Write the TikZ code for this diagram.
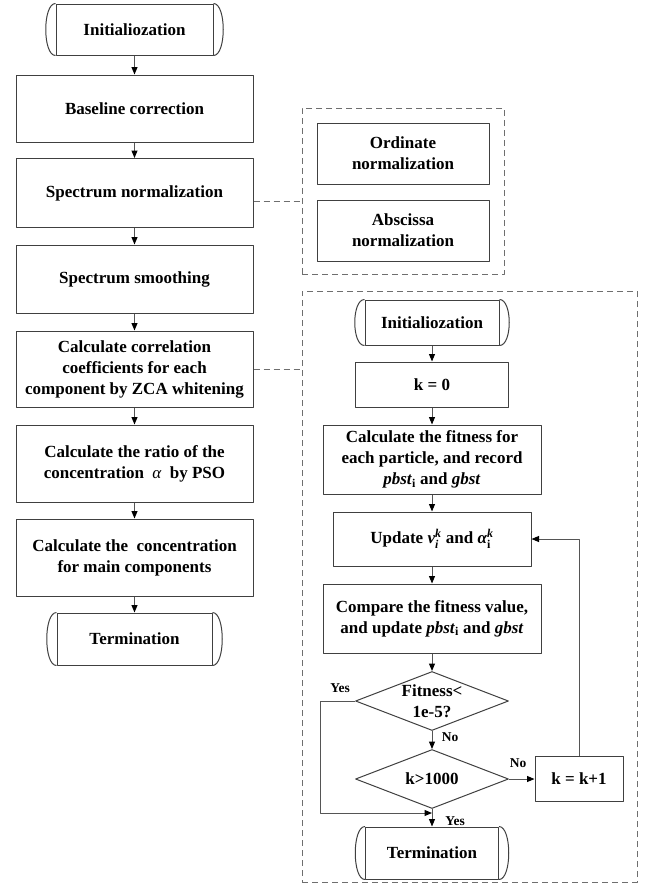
\documentclass[tikz,border=0pt]{standalone}
\usepackage{amsmath}
\usepackage{fontspec}
\setmainfont{Liberation Serif}
\usetikzlibrary{arrows.meta,shapes.geometric,calc}
\definecolor{BoxLine}{HTML}{404040}
\definecolor{LinkGray}{HTML}{555555}
\definecolor{DashGray}{HTML}{6E6E6E}

% rounded caps on both sides of a terminal box
\newcommand{\termcaps}[1]{%
  \draw[BoxLine, line width=1pt] (#1.north west) .. controls +(-13,0) and +(-13,0) .. (#1.south west);
  \draw[BoxLine, line width=1pt] (#1.north east) .. controls +(13,0) and +(13,0) .. (#1.south east);
}

\begin{document}
\begin{tikzpicture}[
  x=1pt, y=-1pt,
  line join=round,
  font=\fontsize{17}{21}\selectfont\bfseries,
  procbox/.style 2 args={draw=BoxLine, line width=1pt, inner sep=0pt, align=center,
    minimum width=#1pt, minimum height=#2pt},
  termbox/.style 2 args={procbox={#1}{#2}},
  groupbox/.style 2 args={draw=DashGray, line width=1pt, dash pattern=on 6pt off 4pt,
    inner sep=0pt, minimum width=#1pt, minimum height=#2pt},
  decision/.style={diamond, draw=BoxLine, line width=1pt, inner sep=0pt,
    minimum width=153pt, minimum height=59pt},
  arr/.style={LinkGray, line width=1pt, -{Triangle[length=7.5pt,width=6pt,color=black]}},
  dashlink/.style={DashGray, line width=1pt, dash pattern=on 6pt off 4pt},
  flowlabel/.style={font=\fontsize{13.5}{16}\selectfont\bfseries, inner sep=0pt}
]

% Background
\fill[white] (0,0) rectangle (657,894);
\useasboundingbox (0,0) rectangle (657,894);

% === Main flow (left column) ===
\node[termbox={157}{51}] (init) at (134.5,29.5) {Initialiozation};
\termcaps{init}
\node[procbox={237}{67}] (base) at (134.5,108.5) {Baseline correction};
\node[procbox={237}{69}] (norm) at (134.5,193) {Spectrum normalization};
\node[procbox={237}{68}] (smooth) at (134.5,279) {Spectrum smoothing};
\node[procbox={237}{76}] (corr) at (134.5,369)
  {Calculate correlation\\coefficients for each\\component by ZCA whitening};
\node[procbox={237}{77}] (ratio) at (134.5,463.5)
  {Calculate the ratio of the\\concentration~ {\mdseries\itshape α} ~by PSO};
\node[procbox={237}{77}] (main) at (134.5,557.5)
  {Calculate the~ concentration\\for main components};
\node[termbox={155}{52}] (term) at (134.5,639) {Termination};
\termcaps{term}

\foreach \a/\b in {init/base, base/norm, norm/smooth, smooth/corr,
                   corr/ratio, ratio/main, main/term} {
  \draw[arr] (\a) -- (\b);
}

% === Normalization detail ===
\node[groupbox={202}{166}] (grp1) at (403,191) {};
\node[procbox={172}{61}] (ord) at (403,153.5) {Ordinate\\normalization};
\node[procbox={172}{61}] (absc) at (403,230.5) {Abscissa\\normalization};

\coordinate (normtap) at ([yshift=-8pt]norm.east);
\draw[dashlink] (normtap) -- (normtap -| grp1.west);

% === PSO detail ===
\node[groupbox={335}{591}] (grp2) at (469.5,586.5) {};
\draw[dashlink] (corr.east) -- (corr.east -| grp2.west);

\node[termbox={134}{45}] (iinit) at (432,322.5) {Initialiozation};
\termcaps{iinit}
\node[procbox={153}{45}] (kzero) at (432,384.5) {k = 0};
\node[procbox={218}{69}] (fitb) at (432,459.5)
  {Calculate the fitness for\\each particle, and record\\\textit{pbst}\textsubscript{i} and \textit{gbst}};
\node[procbox={198}{54}] (upd) at (432,539)
  {Update \textit{v}$^{\text{\textit{k}}}_{\text{\textit{i}}}$ and \textit{α}$^{\text{\textit{k}}}_{\text{i}}$};
\node[procbox={218}{69}] (cmp) at (432,618.5)
  {Compare the fitness value,\\and update \textit{pbst}\textsubscript{i} and \textit{gbst}};
\node[decision] (fit) at (432,701) {};
\node[align=center, inner sep=0pt] (fittext) at (fit) {Fitness<\\1e-5?};
\node[decision] (kmax) at (432,779) {};
\node[inner sep=0pt] (kmaxtext) at (kmax) {k>1000};
\node[procbox={88}{45}] (kinc) at (579,779) {k = k+1};
\node[termbox={133}{52}] (iterm) at (432,853) {Termination};
\termcaps{iterm}

\foreach \a/\b in {iinit/kzero, kzero/fitb, fitb/upd, upd/cmp,
                   cmp/fit, fit/kmax, kmax/iterm} {
  \draw[arr] (\a) -- (\b);
}

% loop back and exit
\draw[arr] (kmax.east) -- (kinc.west);
\draw[arr] (kinc.north) |- (upd.east);
\coordinate (yesjoin) at (432,813);
\draw[arr] (fit.west) -- ++(-35,0) |- (yesjoin);

% branch labels
\node[flowlabel] (yestop) at (340,688) {Yes};
\node[flowlabel] (nomid) at (450,737) {No};
\node[flowlabel] (noright) at (518,763) {No};
\node[flowlabel] (yesbot) at (455,821) {Yes};

\end{tikzpicture}
\end{document}
